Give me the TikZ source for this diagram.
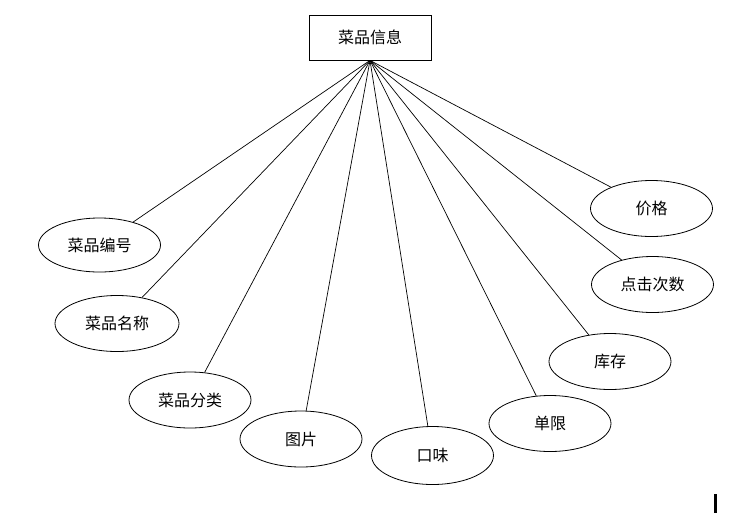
\documentclass[tikz,border=0pt]{standalone}
\usepackage{fontspec}
\newfontfamily\cjk{Noto Sans CJK SC}
\usetikzlibrary{shapes.geometric}
\begin{document}
\begin{tikzpicture}[x=1pt,y=-1pt,
  every node/.style={font=\cjk\fontsize{16}{19}\selectfont},
  entity/.style={draw, line width=0.8pt, minimum width=122pt, minimum height=45pt, inner sep=0pt},
  attr/.style={draw, ellipse, line width=0.8pt, minimum width=122pt, minimum height=56pt, inner sep=0pt},
  link/.style={line width=0.7pt}]
\useasboundingbox (0,0) rectangle (747,515);
\node[entity] (main) at (370,37.5) {菜品信息};
\coordinate (hub) at (main.south);
\node[attr, minimum height=54pt] (a1) at (99.5,245) {菜品编号};
\node[attr, minimum width=124pt] (a2) at (117,323.5) {菜品名称};
\node[attr] (a3) at (190,400) {菜品分类};
\node[attr] (a4) at (301,439) {图片};
\node[attr, minimum height=58pt] (a5) at (432.5,455.5) {口味};
\node[attr] (a6) at (550,423.5) {单限};
\node[attr] (a7) at (610,361.5) {库存};
\node[attr] (a8) at (652.5,284.5) {点击次数};
\node[attr] (a9) at (651.5,208.5) {价格};
\foreach \n in {a1,a2,a3,a4,a5,a6,a7,a8,a9}
  \draw[link] (hub) -- (\n);
\fill (714,494) rectangle (716.5,513);
\end{tikzpicture}
\end{document}
